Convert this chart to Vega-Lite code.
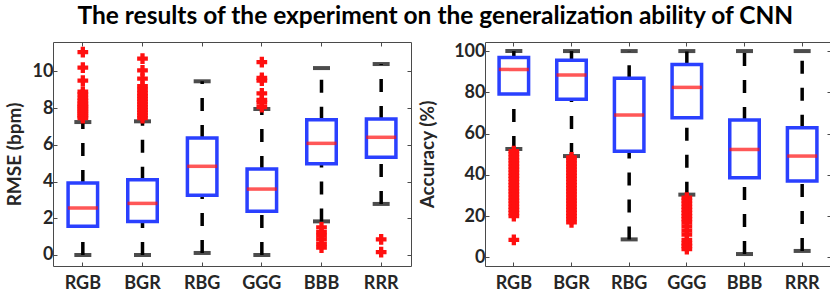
{
  "$schema": "https://vega.github.io/schema/vega-lite/v6.json",
  "padding": {"left": 4, "top": 3, "right": 2, "bottom": 0},
  "title": {"text": "The results of the experiment on the generalization ability of CNN", "font": "Lato", "fontSize": 24.5, "fontWeight": "bold", "color": "#000000", "anchor": "middle", "offset": 12, "dx": 17},
  "datasets": {
    "rmse": [
      {"cat": "RGB", "lo": 0.0, "q1": 1.57, "med": 2.56, "q3": 3.92, "hi": 7.24},
      {"cat": "BGR", "lo": 0.0, "q1": 1.83, "med": 2.81, "q3": 4.1, "hi": 7.28},
      {"cat": "RBG", "lo": 0.11, "q1": 3.25, "med": 4.83, "q3": 6.37, "hi": 9.46},
      {"cat": "GGG", "lo": 0.0, "q1": 2.38, "med": 3.59, "q3": 4.68, "hi": 7.95},
      {"cat": "BBB", "lo": 1.83, "q1": 4.97, "med": 6.08, "q3": 7.37, "hi": 10.18},
      {"cat": "RRR", "lo": 2.78, "q1": 5.32, "med": 6.41, "q3": 7.4, "hi": 10.4}
    ],
    "rmse_out": [
      {"cat": "RGB", "v": 7.45}, {"cat": "RGB", "v": 7.55}, {"cat": "RGB", "v": 7.65}, {"cat": "RGB", "v": 7.75}, {"cat": "RGB", "v": 7.85}, {"cat": "RGB", "v": 7.95}, {"cat": "RGB", "v": 8.05}, {"cat": "RGB", "v": 8.15}, {"cat": "RGB", "v": 8.25}, {"cat": "RGB", "v": 8.4}, {"cat": "RGB", "v": 8.55}, {"cat": "RGB", "v": 8.75}, {"cat": "RGB", "v": 8.9}, {"cat": "RGB", "v": 9.5}, {"cat": "RGB", "v": 10.2}, {"cat": "RGB", "v": 11.05},
      {"cat": "BGR", "v": 7.45}, {"cat": "BGR", "v": 7.6}, {"cat": "BGR", "v": 7.75}, {"cat": "BGR", "v": 7.9}, {"cat": "BGR", "v": 8.05}, {"cat": "BGR", "v": 8.2}, {"cat": "BGR", "v": 8.35}, {"cat": "BGR", "v": 8.5}, {"cat": "BGR", "v": 8.65}, {"cat": "BGR", "v": 8.8}, {"cat": "BGR", "v": 9.0}, {"cat": "BGR", "v": 9.2}, {"cat": "BGR", "v": 9.6}, {"cat": "BGR", "v": 10.05}, {"cat": "BGR", "v": 10.7},
      {"cat": "GGG", "v": 8.05}, {"cat": "GGG", "v": 8.3}, {"cat": "GGG", "v": 8.45}, {"cat": "GGG", "v": 8.8}, {"cat": "GGG", "v": 9.5}, {"cat": "GGG", "v": 9.65}, {"cat": "GGG", "v": 10.5},
      {"cat": "BBB", "v": 1.5}, {"cat": "BBB", "v": 1.25}, {"cat": "BBB", "v": 1.05}, {"cat": "BBB", "v": 0.85}, {"cat": "BBB", "v": 0.6}, {"cat": "BBB", "v": 0.4},
      {"cat": "RRR", "v": 0.85}, {"cat": "RRR", "v": 0.15}
    ],
    "acc": [
      {"cat": "RGB", "lo": 52.5, "q1": 79.2, "med": 91.1, "q3": 96.9, "hi": 100},
      {"cat": "BGR", "lo": 49.1, "q1": 76.7, "med": 88.4, "q3": 95.6, "hi": 100},
      {"cat": "RBG", "lo": 8.7, "q1": 51.4, "med": 69.0, "q3": 86.8, "hi": 100},
      {"cat": "GGG", "lo": 30.4, "q1": 67.7, "med": 82.4, "q3": 93.5, "hi": 100},
      {"cat": "BBB", "lo": 1.6, "q1": 38.6, "med": 52.3, "q3": 66.6, "hi": 100},
      {"cat": "RRR", "lo": 3.1, "q1": 37.0, "med": 49.1, "q3": 62.8, "hi": 100}
    ],
    "acc_out": [
      {"cat": "RGB", "v": 51.5}, {"cat": "RGB", "v": 50}, {"cat": "RGB", "v": 48.5}, {"cat": "RGB", "v": 47}, {"cat": "RGB", "v": 45.5}, {"cat": "RGB", "v": 44}, {"cat": "RGB", "v": 42.5}, {"cat": "RGB", "v": 41}, {"cat": "RGB", "v": 39.5}, {"cat": "RGB", "v": 38}, {"cat": "RGB", "v": 36.5}, {"cat": "RGB", "v": 35}, {"cat": "RGB", "v": 33.5}, {"cat": "RGB", "v": 32}, {"cat": "RGB", "v": 30.5}, {"cat": "RGB", "v": 29}, {"cat": "RGB", "v": 27.5}, {"cat": "RGB", "v": 26}, {"cat": "RGB", "v": 24.5}, {"cat": "RGB", "v": 23}, {"cat": "RGB", "v": 21.5}, {"cat": "RGB", "v": 20}, {"cat": "RGB", "v": 8.5},
      {"cat": "BGR", "v": 48.5}, {"cat": "BGR", "v": 47}, {"cat": "BGR", "v": 45.5}, {"cat": "BGR", "v": 44}, {"cat": "BGR", "v": 42.5}, {"cat": "BGR", "v": 41}, {"cat": "BGR", "v": 39.5}, {"cat": "BGR", "v": 38}, {"cat": "BGR", "v": 36.5}, {"cat": "BGR", "v": 35}, {"cat": "BGR", "v": 33.5}, {"cat": "BGR", "v": 32}, {"cat": "BGR", "v": 30.5}, {"cat": "BGR", "v": 29}, {"cat": "BGR", "v": 27.5}, {"cat": "BGR", "v": 26}, {"cat": "BGR", "v": 24.5}, {"cat": "BGR", "v": 23}, {"cat": "BGR", "v": 21.5}, {"cat": "BGR", "v": 20}, {"cat": "BGR", "v": 18.5}, {"cat": "BGR", "v": 17},
      {"cat": "GGG", "v": 29}, {"cat": "GGG", "v": 27.5}, {"cat": "GGG", "v": 26}, {"cat": "GGG", "v": 24.5}, {"cat": "GGG", "v": 23}, {"cat": "GGG", "v": 21.5}, {"cat": "GGG", "v": 20}, {"cat": "GGG", "v": 18.5}, {"cat": "GGG", "v": 17}, {"cat": "GGG", "v": 15}, {"cat": "GGG", "v": 13}, {"cat": "GGG", "v": 11}, {"cat": "GGG", "v": 8.5}, {"cat": "GGG", "v": 6.8}, {"cat": "GGG", "v": 5.5}, {"cat": "GGG", "v": 4}
    ]
  },
  "spacing": 6,
  "hconcat": [
    {
      "width": 358,
      "height": 224,
      "data": {"name": "rmse"},
      "resolve": {"axis": {"x": "independent", "y": "independent"}},
      "encoding": {
        "x": {"field": "cat", "type": "nominal", "sort": ["RGB", "BGR", "RBG", "GGG", "BBB", "RRR"], "scale": {"paddingInner": 0, "paddingOuter": 0}, "axis": null}
      },
      "layer": [
        {"mark": {"type": "rule", "color": "#000000", "strokeWidth": 3.5, "strokeDash": [13, 14]},
         "encoding": {
           "x": {"field": "cat", "type": "nominal", "sort": ["RGB", "BGR", "RBG", "GGG", "BBB", "RRR"], "axis": {"title": null, "labelAngle": 0, "orient": "bottom"}},
           "y": {"field": "lo", "type": "quantitative", "scale": {"domain": [-0.6, 11.6], "nice": false, "zero": false}, "axis": {"title": "RMSE (bpm)", "values": [0, 2, 4, 6, 8, 10], "titlePadding": 8}}, "y2": {"field": "q1"}}},
        {"mark": {"type": "rule", "color": "#000000", "strokeWidth": 3.5, "strokeDash": [13, 14]},
         "encoding": {
           "x": {"field": "cat", "type": "nominal", "sort": ["RGB", "BGR", "RBG", "GGG", "BBB", "RRR"], "axis": {"title": null, "labels": false, "orient": "top"}},
           "y": {"field": "q3", "type": "quantitative", "axis": {"title": null, "labels": false, "orient": "right", "values": [0, 2, 4, 6, 8, 10]}}, "y2": {"field": "hi"}}},
        {"mark": {"type": "tick", "color": "#000000", "thickness": 4, "size": 17},
         "encoding": {"y": {"field": "lo", "type": "quantitative", "axis": null}}},
        {"mark": {"type": "tick", "color": "#000000", "thickness": 4, "size": 17},
         "encoding": {"y": {"field": "hi", "type": "quantitative", "axis": null}}},
        {"mark": {"type": "bar", "fill": "#ffffff", "fillOpacity": 0, "stroke": "#2a40ff", "strokeWidth": 3.5, "size": 29.5},
         "encoding": {"y": {"field": "q1", "type": "quantitative", "axis": null}, "y2": {"field": "q3"}}},
        {"mark": {"type": "tick", "color": "#ff1010", "thickness": 3.5, "size": 30},
         "encoding": {"y": {"field": "med", "type": "quantitative", "axis": null}}},
        {"data": {"name": "rmse_out"},
         "mark": {"type": "point", "shape": "cross", "filled": true, "color": "#ff1010", "size": 115, "opacity": 1},
         "encoding": {"y": {"field": "v", "type": "quantitative", "axis": null}}}
      ]
    },
    {
      "width": 346,
      "height": 224,
      "data": {"name": "acc"},
      "resolve": {"axis": {"x": "independent", "y": "independent"}},
      "encoding": {
        "x": {"field": "cat", "type": "nominal", "sort": ["RGB", "BGR", "RBG", "GGG", "BBB", "RRR"], "scale": {"paddingInner": 0, "paddingOuter": 0}, "axis": null}
      },
      "layer": [
        {"mark": {"type": "rule", "color": "#000000", "strokeWidth": 3.5, "strokeDash": [13, 14]},
         "encoding": {
           "x": {"field": "cat", "type": "nominal", "sort": ["RGB", "BGR", "RBG", "GGG", "BBB", "RRR"], "axis": {"title": null, "labelAngle": 0, "orient": "bottom"}},
           "y": {"field": "lo", "type": "quantitative", "scale": {"domain": [-4.2, 104.4], "nice": false, "zero": false}, "axis": {"title": "Accuracy (%)", "values": [0, 20, 40, 60, 80, 100], "titlePadding": 16}}, "y2": {"field": "q1"}}},
        {"mark": {"type": "rule", "color": "#000000", "strokeWidth": 3.5, "strokeDash": [13, 14]},
         "encoding": {
           "x": {"field": "cat", "type": "nominal", "sort": ["RGB", "BGR", "RBG", "GGG", "BBB", "RRR"], "axis": {"title": null, "labels": false, "orient": "top"}},
           "y": {"field": "q3", "type": "quantitative", "axis": {"title": null, "labels": false, "orient": "right", "values": [0, 20, 40, 60, 80, 100]}}, "y2": {"field": "hi"}}},
        {"mark": {"type": "tick", "color": "#000000", "thickness": 4, "size": 17},
         "encoding": {"y": {"field": "lo", "type": "quantitative", "axis": null}}},
        {"mark": {"type": "tick", "color": "#000000", "thickness": 4, "size": 17},
         "encoding": {"y": {"field": "hi", "type": "quantitative", "axis": null}}},
        {"mark": {"type": "bar", "fill": "#ffffff", "fillOpacity": 0, "stroke": "#2a40ff", "strokeWidth": 3.5, "size": 29.5},
         "encoding": {"y": {"field": "q1", "type": "quantitative", "axis": null}, "y2": {"field": "q3"}}},
        {"mark": {"type": "tick", "color": "#ff1010", "thickness": 3.5, "size": 30},
         "encoding": {"y": {"field": "med", "type": "quantitative", "axis": null}}},
        {"data": {"name": "acc_out"},
         "mark": {"type": "point", "shape": "cross", "filled": true, "color": "#ff1010", "size": 115, "opacity": 1},
         "encoding": {"y": {"field": "v", "type": "quantitative", "axis": null}}}
      ]
    }
  ],
  "config": {
    "font": "Lato",
    "view": {"stroke": "#4a4a4a", "strokeWidth": 1},
    "axis": {
      "grid": false,
      "domain": false,
      "tickColor": "#4a4a4a",
      "tickSize": -4,
      "labelPadding": 4,
      "labelFont": "Lato",
      "labelFontSize": 18,
      "labelFontWeight": "bold",
      "labelColor": "#262626",
      "titleFont": "Lato",
      "titleFontSize": 19,
      "titleFontWeight": "bold",
      "titleColor": "#262626"
    },
    "axisX": {"labelPadding": 12}
  }
}
